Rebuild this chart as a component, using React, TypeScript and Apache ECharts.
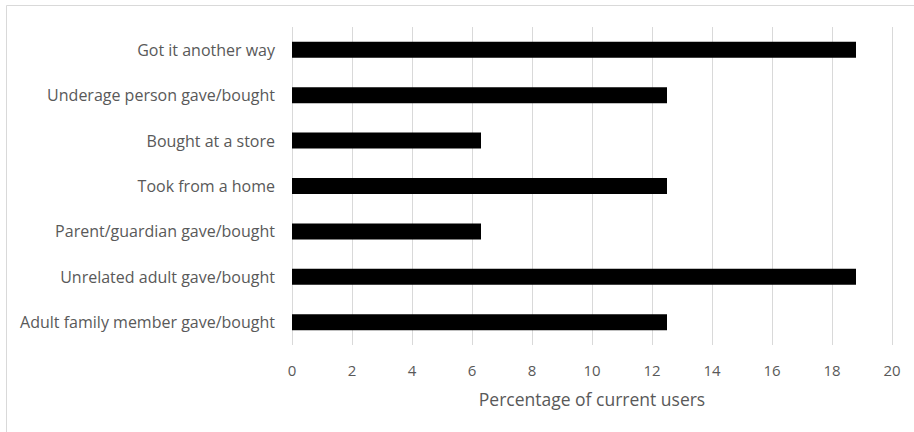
import React, { useEffect, useRef } from "react";
import * as echarts from "echarts";

const categories = [
  "Adult family member gave/bought",
  "Unrelated adult gave/bought",
  "Parent/guardian gave/bought",
  "Took from a home",
  "Bought at a store",
  "Underage person gave/bought",
  "Got it another way",
];
const values = [12.5, 18.8, 6.3, 12.5, 6.3, 12.5, 18.8];
const xTicks = { min: 0, max: 20, interval: 2 };
const xName = "Percentage of current users";

const FONT = "'Open Sans', sans-serif";
const TEXT = "#595959";

export default function App() {
  const ref = useRef<HTMLDivElement>(null);
  useEffect(() => {
    if (!ref.current) return;
    const chart = echarts.init(ref.current, undefined, { renderer: "svg" });
    chart.setOption({
      animation: false,
      backgroundColor: "#ffffff",
      textStyle: { fontFamily: FONT },
      graphic: [
        {
          type: "rect",
          shape: { x: 6.5, y: 5.5, width: 940, height: 460 },
          style: { fill: "none", stroke: "#d9d9d9", lineWidth: 1 },
          silent: true,
        },
      ],
      grid: { left: 292, right: 22, top: 27, bottom: 87, containLabel: false },
      xAxis: {
        type: "value",
        min: xTicks.min,
        max: xTicks.max,
        interval: xTicks.interval,
        name: xName,
        nameLocation: "middle",
        nameGap: 45,
        nameTextStyle: { color: TEXT, fontSize: 17.5, fontFamily: FONT },
        axisLine: { show: false },
        axisTick: { show: false },
        axisLabel: { color: TEXT, fontSize: 15, margin: 17, fontFamily: FONT },
        splitLine: { show: true, lineStyle: { color: "#d9d9d9", width: 1 } },
      },
      yAxis: {
        type: "category",
        data: categories,
        axisLine: { show: false },
        axisTick: { show: false },
        axisLabel: { color: TEXT, fontSize: 16, margin: 17, fontFamily: FONT },
      },
      series: [
        {
          type: "bar",
          data: values,
          barWidth: 16,
          itemStyle: { color: "#000000" },
        },
      ],
    });
    return () => chart.dispose();
  }, []);
  return (
    <div
      ref={ref}
      style={{ position: "fixed", left: 0, top: 0, width: 914, height: 432 }}
    />
  );
}
